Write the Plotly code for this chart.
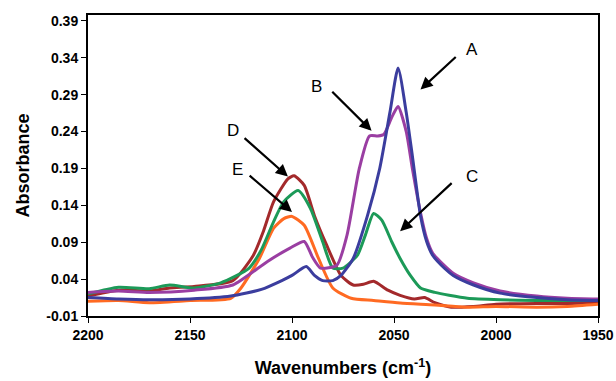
import plotly.graph_objects as go

# ---- data ----
wn_A = [2200, 2185, 2170, 2150, 2130, 2115, 2105, 2100, 2093, 2089, 2085, 2080, 2076, 2070, 2063, 2057, 2052, 2048,
        2044, 2041, 2037, 2034, 2031, 2025, 2021, 2011, 1998, 1980, 1965, 1950]
ab_A = [0.015, 0.013, 0.012, 0.013, 0.017, 0.026, 0.038, 0.045, 0.057, 0.045, 0.038, 0.038, 0.045, 0.068, 0.126, 0.19,
        0.266, 0.326, 0.266, 0.207, 0.126, 0.091, 0.072, 0.054, 0.045, 0.032, 0.021, 0.015, 0.012, 0.011]

wn_B = [2200, 2185, 2170, 2148, 2129, 2112, 2101, 2094, 2090, 2086, 2078, 2073, 2067, 2062, 2058, 2055, 2051, 2048,
        2044, 2041, 2037, 2034, 2031, 2021, 2011, 1998, 1980, 1965, 1950]
ab_B = [0.022, 0.024, 0.022, 0.025, 0.032, 0.064, 0.082, 0.091, 0.07, 0.055, 0.059, 0.10, 0.19, 0.234, 0.234, 0.236,
        0.26, 0.274, 0.24, 0.19, 0.13, 0.095, 0.075, 0.048, 0.035, 0.024, 0.017, 0.014, 0.013]

wn_C = [2200, 2185, 2170, 2160, 2148, 2135, 2121, 2115, 2109, 2104, 2097, 2091, 2085, 2080, 2075, 2068, 2064, 2060,
        2056, 2051, 2047, 2042, 2037, 2030, 2023, 2014, 1998, 1980, 1965, 1950]
ab_C = [0.02, 0.029, 0.027, 0.032, 0.028, 0.035, 0.055, 0.08, 0.118, 0.145, 0.16, 0.136, 0.091, 0.055, 0.055, 0.072,
        0.10, 0.129, 0.12, 0.09, 0.068, 0.045, 0.028, 0.022, 0.018, 0.014, 0.012, 0.011, 0.011, 0.011]

wn_D = [2200, 2185, 2170, 2160, 2148, 2129, 2119, 2114, 2109, 2102, 2099, 2094, 2089, 2083, 2076, 2070, 2065, 2060,
        2053, 2047, 2040, 2035, 2030, 2022, 2011, 2000, 1980, 1965, 1950]
ab_D = [0.017, 0.025, 0.024, 0.028, 0.03, 0.038, 0.072, 0.105, 0.145, 0.176, 0.18, 0.167, 0.126, 0.086, 0.045, 0.032,
        0.033, 0.037, 0.025, 0.018, 0.013, 0.015, 0.008, 0.002, 0.003, 0.006, 0.007, 0.007, 0.008]

wn_E = [2200, 2185, 2170, 2150, 2130, 2125, 2116, 2109, 2104, 2100, 2094, 2087, 2080, 2071, 2060, 2047, 2030, 2015,
        2000, 1980, 1965, 1950]
ab_E = [0.01, 0.011, 0.008, 0.011, 0.014, 0.028, 0.068, 0.109, 0.122, 0.125, 0.113, 0.068, 0.028, 0.014, 0.011,
        0.0075, 0.005, 0.002, 0.003, 0.002, 0.003, 0.006]

series_names = ["A", "B", "C", "D", "E"]
series_colors = ["#3b3d9e", "#9a3ea2", "#1c9a58", "#a3292b", "#ff6a22"]

# label text positions and arrow (tail -> head), in data units
label_pos = {"A": (2011.8, 0.351), "B": (2088, 0.301), "C": (2012, 0.179), "D": (2129, 0.241), "E": (2126.5, 0.189)}
arrow_tail = {"A": (2019, 0.343), "B": (2081, 0.296), "C": (2021, 0.172), "D": (2124, 0.233), "E": (2121.5, 0.182)}
arrow_head = {"A": (2037, 0.297), "B": (2061, 0.241), "C": (2047, 0.105), "D": (2102, 0.179), "E": (2100, 0.131)}

y_ticks = [-0.01, 0.04, 0.09, 0.14, 0.19, 0.24, 0.29, 0.34, 0.39]
x_ticks = [2200, 2150, 2100, 2050, 2000, 1950]

FONT = "Liberation Sans, Arial, sans-serif"

fig = go.Figure()
data = {"A": (wn_A, ab_A), "B": (wn_B, ab_B), "C": (wn_C, ab_C), "D": (wn_D, ab_D), "E": (wn_E, ab_E)}
for name in ["D", "E", "C", "B", "A"]:
    i = series_names.index(name)
    x, y = data[name]
    fig.add_trace(go.Scatter(x=x, y=y, mode="lines", name=name,
                             line=dict(color=series_colors[i], width=3, shape="spline", smoothing=0.6)))

for name in series_names:
    tx, ty = label_pos[name]
    fig.add_annotation(x=tx, y=ty, text=name, showarrow=False, xref="x", yref="y",
                       font=dict(family=FONT, size=17, color="black"))
    hx, hy = arrow_head[name]
    sx, sy = arrow_tail[name]
    fig.add_annotation(x=hx, y=hy, ax=sx, ay=sy, xref="x", yref="y", axref="x", ayref="y",
                       text="", showarrow=True, arrowhead=2, arrowsize=1.1, arrowwidth=2.2,
                       arrowcolor="black")

fig.update_layout(
    width=616, height=381,
    margin=dict(l=88, r=18, t=15, b=65),
    paper_bgcolor="white", plot_bgcolor="white",
    showlegend=False,
    font=dict(family=FONT, color="black"),
)
fig.update_xaxes(
    range=[2200, 1950], tickvals=x_ticks, ticktext=[str(v) for v in x_ticks],
    showgrid=False, zeroline=False, showline=True, linecolor="black", linewidth=2, mirror=True,
    ticks="outside", ticklen=5, tickcolor="black", automargin=False,
    tickfont=dict(family=FONT, size=14, weight="bold"),
    title=dict(text="Wavenumbers (cm<sup>-1</sup>)", font=dict(family=FONT, size=18, weight="bold"), standoff=20),
)
fig.update_yaxes(
    range=[-0.01, 0.398], tickvals=y_ticks, ticktext=["%.2f" % v for v in y_ticks],
    showgrid=False, zeroline=False, showline=True, linecolor="black", linewidth=2, mirror=True,
    ticks="outside", ticklen=5, tickcolor="black", automargin=False,
    tickfont=dict(family=FONT, size=14, weight="bold"),
    title=dict(text="Absorbance", font=dict(family=FONT, size=18, weight="bold"), standoff=12),
)

fig.write_html("out.html")
